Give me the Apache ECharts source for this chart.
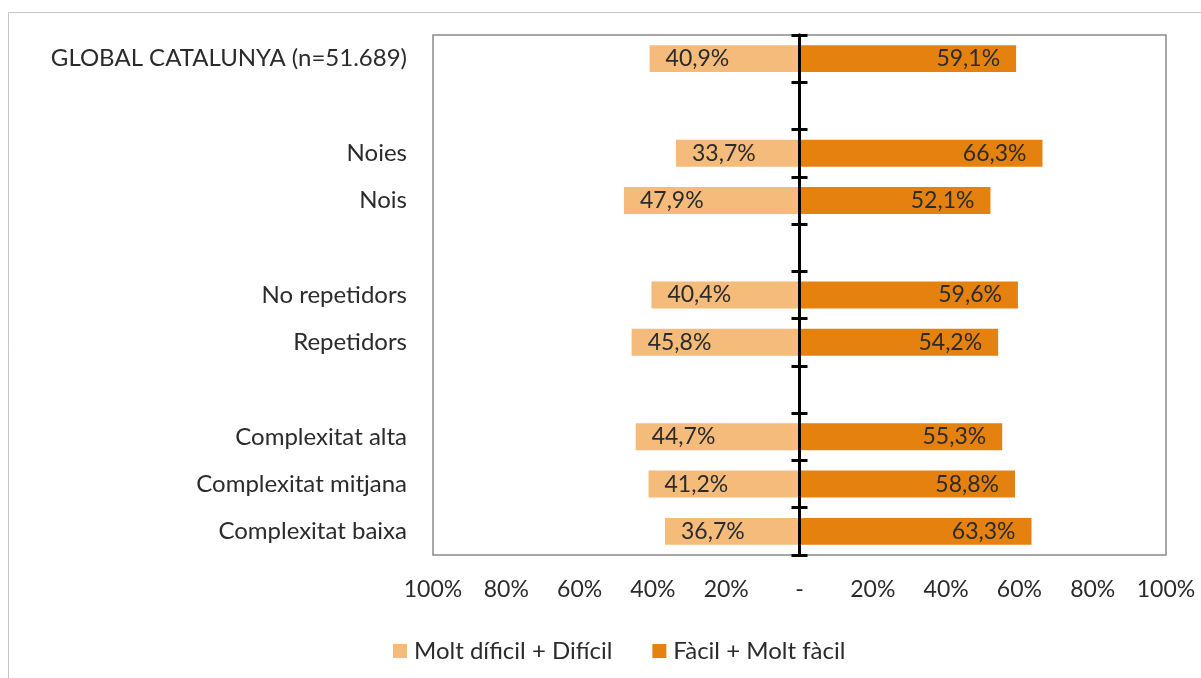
<!DOCTYPE html>
<html>
<head>
<meta charset="utf-8">
<script src="https://cdn.jsdelivr.net/npm/echarts@6/dist/echarts.min.js"></script>
<style>
  html, body { margin: 0; padding: 0; background: #fff; }
  #chart { width: 1201px; height: 678px; }
</style>
</head>
<body>
<div id="chart"></div>
<script>
// Row labels (blank rows separate the groups)
const categories = ['GLOBAL CATALUNYA (n=51.689)', ' ', 'Noies', 'Nois', '  ', 'No repetidors', 'Repetidors', '   ', 'Complexitat alta', 'Complexitat mitjana', 'Complexitat baixa'];
// Percentages per row
const difficult = [40.9, null, 33.7, 47.9, null, 40.4, 45.8, null, 44.7, 41.2, 36.7];
const easy = [59.1, null, 66.3, 52.1, null, 59.6, 54.2, null, 55.3, 58.8, 63.3];
const seriesNames = ['Molt díficil + Difícil', 'Fàcil + Molt fàcil'];
const axisMin = -100, axisMax = 100, axisStep = 20;

const FONT = 'Lato';
const TEXT = '#2b2b2b';
const fmtPct = v => Math.abs(v).toFixed(1).replace('.', ',') + '%';

const chart = echarts.init(document.getElementById('chart'));
chart.setOption({
  animation: false,
  textStyle: { fontFamily: FONT },
  graphic: [{
    type: 'polyline',
    shape: { points: [[8.5, 678], [8.5, 12.5], [1201, 12.5]] },
    style: { stroke: '#c6c6c6', lineWidth: 1, fill: null },
    silent: true
  }],
  grid: {
    left: 433, right: 35, top: 35, bottom: 123,
    show: true, borderColor: '#8a8a8a', borderWidth: 1.5, backgroundColor: 'transparent'
  },
  legend: {
    data: seriesNames,
    left: 388, top: 634,
    icon: 'rect', itemWidth: 14, itemHeight: 14, itemGap: 40,
    textStyle: { fontFamily: FONT, fontSize: 24, color: TEXT, padding: [0, 0, 0, 2] }
  },
  xAxis: [{
    type: 'value', min: axisMin, max: axisMax, interval: axisStep,
    axisLine: { show: false }, axisTick: { show: false }, splitLine: { show: false },
    axisLabel: {
      margin: 23, fontSize: 23, color: TEXT, fontFamily: FONT,
      formatter: v => v === 0 ? '-' : Math.abs(v) + '%'
    }
  }, {
    type: 'value', min: axisMin, max: axisMax, show: false
  }],
  yAxis: [{
    // category labels on the left
    type: 'category', data: categories, inverse: true,
    axisLine: { show: false, onZero: false }, axisTick: { show: false },
    axisLabel: { margin: 26, fontSize: 24, color: TEXT, fontFamily: FONT }
  }, {
    // centre line, ticks pointing left
    type: 'category', data: categories, inverse: true, z: 10,
    axisLine: { onZero: true, onZeroAxisIndex: 0, lineStyle: { color: '#000', width: 3 } },
    axisTick: { show: true, inside: false, length: 8, lineStyle: { color: '#000', width: 3 } },
    axisLabel: { show: false }
  }, {
    // ticks pointing right
    type: 'category', data: categories, inverse: true, z: 10,
    axisLine: { onZero: true, onZeroAxisIndex: 1, lineStyle: { color: '#000', width: 3 } },
    axisTick: { show: true, inside: true, length: 8, lineStyle: { color: '#000', width: 3 } },
    axisLabel: { show: false }
  }],
  series: [{
    name: seriesNames[0], type: 'bar', stack: 'total', barWidth: '57%',
    itemStyle: { color: '#F4BB7B' },
    data: difficult.map(v => v == null ? null : -v),
    label: {
      show: true, position: 'insideLeft', distance: 16,
      fontSize: 23, color: TEXT, fontFamily: FONT,
      formatter: p => p.value == null ? '' : fmtPct(p.value)
    }
  }, {
    name: seriesNames[1], type: 'bar', stack: 'total', barWidth: '57%',
    itemStyle: { color: '#E5820F' },
    data: easy,
    label: {
      show: true, position: 'insideRight', distance: 16,
      fontSize: 23, color: TEXT, fontFamily: FONT,
      formatter: p => p.value == null ? '' : fmtPct(p.value)
    }
  }]
});
</script>
</body>
</html>
